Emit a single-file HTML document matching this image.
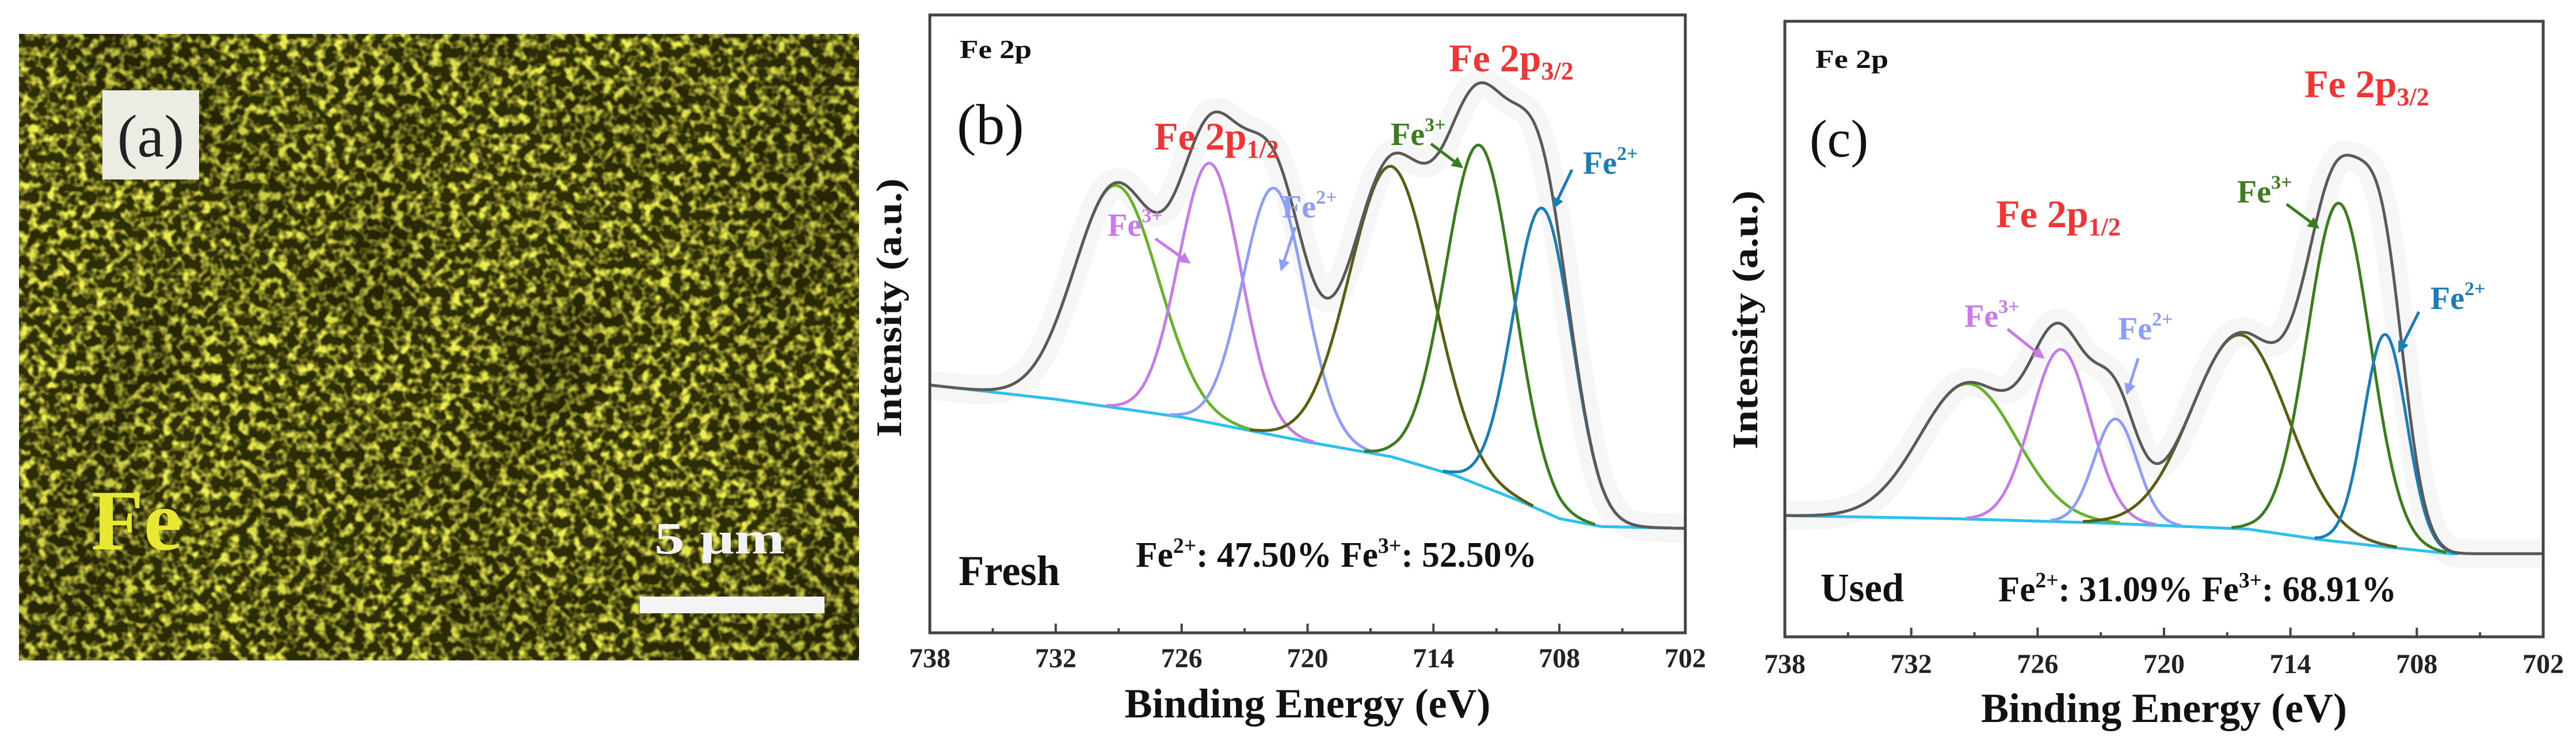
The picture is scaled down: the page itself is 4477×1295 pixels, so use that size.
<!DOCTYPE html>
<html><head><meta charset="utf-8"><title>Fe 2p XPS</title>
<style>
html,body{margin:0;padding:0;background:#fff;}
svg{display:block;}
text{font-family:"Liberation Serif",serif;}
</style></head>
<body>
<svg id="fig" width="4477" height="1295" viewBox="0 0 4477 1295" xmlns="http://www.w3.org/2000/svg">
<defs>
<filter id="eds" x="0" y="0" width="100%" height="100%">
<feTurbulence type="fractalNoise" baseFrequency="0.06" numOctaves="2" seed="7" result="n"/>
<feColorMatrix in="n" type="matrix" values="0 0 0 0 0.85  0 0 0 0 0.85  0 0 0 0 0.08  3.2 0 0 0 -1.35"/>
</filter>
<filter id="eds2" x="0" y="0" width="100%" height="100%">
<feTurbulence type="fractalNoise" baseFrequency="0.004" numOctaves="2" seed="3" result="n"/>
<feColorMatrix in="n" type="matrix" values="0 0 0 0 0  0 0 0 0 0  0 0 0 0 0  -1.6 0 0 0 0.95"/>
</filter>
<clipPath id="clipB"><rect x="1616" y="26" width="1313" height="1074"/></clipPath>
<clipPath id="clipC"><rect x="3102" y="37" width="1318" height="1070"/></clipPath>
<marker id="ah" viewBox="0 0 10 10" refX="8" refY="5" markerWidth="4" markerHeight="4" orient="auto-start-reverse"><path d="M0,0 L10,5 L0,10 z" fill="context-stroke"/></marker>
</defs>

<g>
<rect x="33" y="59" width="1460" height="1089" fill="#2e2e06"/>
<rect x="33" y="59" width="1460" height="1089" filter="url(#eds)"/>
<rect x="33" y="59" width="1460" height="1089" filter="url(#eds2)" opacity="0.4"/>
<rect x="178" y="157" width="168" height="155" fill="#ecece4"/>
<text x="262" y="272" font-size="105" text-anchor="middle" fill="#222">(a)</text>
<text x="158" y="955" font-size="150" font-weight="bold" fill="#e8e832">Fe</text>
<text x="1137" y="962" font-size="78" font-weight="bold" fill="#f2f2f2" textLength="227" lengthAdjust="spacingAndGlyphs">5 μm</text>
<rect x="1112" y="1037" width="321" height="29" fill="#f4f4f4"/>
</g>

<g id="panelB"></g>
<g id="panelC"></g>
</svg>

<script>
const ticksE = [738, 732, 726, 720, 714, 708, 702];
const minorTicksE = [735, 729, 723, 717, 711, 705];
const peakNames = ["sat-2p1-2", "fe3-2p1-2", "fe2-2p1-2", "sat-2p3-2", "fe3-2p3-2", "fe2-2p3-2"];
const freshCenters = [729.1, 724.65, 721.6, 716.0, 711.8, 708.8];
const freshHeights = [36, 42, 40, 47, 55, 49];
const freshFwhm = [4.7, 3.5, 3.5, 4.7, 3.8, 3.3];
const freshBgE = [738, 732, 726, 720, 716, 713, 710, 708, 706, 702];
const freshBgV = [40.1, 37.8, 34.9, 30.9, 28.5, 25.5, 21.5, 18.5, 17.2, 16.9];
const usedCenters = [729.3, 724.9, 722.3, 716.4, 711.7, 709.5];
const usedHeights = [22, 28, 17, 31.5, 55, 34.5];
const usedFwhm = [5.4, 3.3, 2.4, 5.4, 3.5, 2.4];
const usedBgE = [738, 730, 723, 716, 712.6, 710, 706.4, 702];
const usedBgV = [19.7, 19.2, 18.5, 17.5, 15.8, 14.8, 13.5, 13.5];

const peakColors = ["#66b22a", "#c77ae8", "#8f9ef5", "#5c5c14", "#3b7d1e", "#1a7db8"];
const NS = "http://www.w3.org/2000/svg";

function mk(tag, attrs, parent) {
  const el = document.createElementNS(NS, tag);
  for (const k in attrs) el.setAttribute(k, attrs[k]);
  parent.appendChild(el);
  return el;
}
function interp(E, xs, ys) {
  for (let i = 0; i < xs.length - 1; i++) {
    if (E <= xs[i] && E >= xs[i + 1]) {
      const t = (xs[i] - E) / (xs[i] - xs[i + 1]);
      return ys[i] + t * (ys[i + 1] - ys[i]);
    }
  }
  return E > xs[0] ? ys[0] : ys[ys.length - 1];
}
function gauss(E, c, h, f) { const s = f / 2.355; return h * Math.exp(-((E - c) * (E - c)) / (2 * s * s)); }

function drawPanel(g, P) {
  const xS = E => P.left + (738 - E) / 36 * (P.right - P.left);
  const yS = v => P.bottom - v / 100 * (P.bottom - P.top);
  const bg = E => interp(E, P.bgE, P.bgV);
  const step = 0.05;
  const Es = [];
  for (let E = 738; E >= 702 - 1e-9; E -= step) Es.push(E);

  const plot = mk("g", {"clip-path": P.clip}, g);
  
  

  let envD = "";
  Es.forEach((E, i) => {
    let v = bg(E);
    for (let k = 0; k < P.centers.length; k++) v += gauss(E, P.centers[k], P.heights[k], P.fwhm[k]);
    envD += (i ? "L" : "M") + xS(E).toFixed(1) + "," + yS(v).toFixed(1);
  });
  const band = mk("path", {d: envD, fill: "none", stroke: "#d6d6d6", "stroke-width": 50, opacity: 0.22, "stroke-linejoin": "round"}, plot);
  
  

  let bgD = "";
  Es.forEach(E => { if (E >= P.bgEnd) bgD += (bgD ? "L" : "M") + xS(E).toFixed(1) + "," + yS(bg(E)).toFixed(1); });
  const bgl = mk("path", {d: bgD, fill: "none", stroke: "#2ec0ec", "stroke-width": 5}, plot);
  
  

  for (let k = 0; k < P.centers.length; k++) {
    let d = "";
    Es.forEach(E => {
      const gv = gauss(E, P.centers[k], P.heights[k], P.fwhm[k]);
      if (gv > 0.15) d += (d ? "L" : "M") + xS(E).toFixed(1) + "," + yS(bg(E) + gv).toFixed(1);
    });
    const pk = mk("path", {d: d, fill: "none", stroke: peakColors[k], "stroke-width": 5, "stroke-linejoin": "round"}, plot);
    
    
  }
  const env = mk("path", {d: envD, fill: "none", stroke: "#5a5a5a", "stroke-width": 5, "stroke-linejoin": "round"}, plot);
  
  

  const fr = mk("rect", {x: P.left, y: P.top, width: P.right - P.left, height: P.bottom - P.top, fill: "none", stroke: "#444", "stroke-width": 5}, g);
  
  

  ticksE.forEach(E => {
    const t = mk("line", {x1: xS(E), x2: xS(E), y1: P.bottom, y2: P.bottom - 16, stroke: "#444", "stroke-width": 4}, g);
    
    
    const lb = mk("text", {x: xS(E), y: P.tickBase, "font-size": 48, "font-weight": "bold", "text-anchor": "middle", fill: "#222"}, g);
    
    
    lb.textContent = E;
  });
  minorTicksE.forEach(E => {
    const t = mk("line", {x1: xS(E), x2: xS(E), y1: P.bottom, y2: P.bottom - 8, stroke: "#444", "stroke-width": 4}, g);
    
    
  });
  const xt = mk("text", {x: (P.left + P.right) / 2, y: P.xTitleBase, "font-size": 72, "font-weight": "bold", "text-anchor": "middle", fill: "#111"}, g);
  
  
  xt.textContent = "Binding Energy (eV)";
  const yt = mk("text", {x: 0, y: 0, "font-size": 62, "font-weight": "bold", "text-anchor": "middle", fill: "#111",
    textLength: 450, lengthAdjust: "spacingAndGlyphs",
    transform: "translate(" + (P.yTitleX) + "," + P.yTitleY + ") rotate(-90)"}, g);
  
  
  yt.textContent = "Intensity (a.u.)";
}

function ionLabel(g, x, y, charge, color, name) {
  const t = mk("text", {x: x, y: y, "font-size": 56, "font-weight": "bold", fill: color}, g);
  
  
  t.innerHTML = 'Fe<tspan font-size="34" dy="-24">' + charge + '</tspan>';
}
function arrow(g, x1, y1, x2, y2, color, name) {
  const a = mk("line", {x1: x1, y1: y1, x2: x2, y2: y2, stroke: color, "stroke-width": 5, "marker-end": "url(#ah)"}, g);
  
  
}
function redLabel(g, x, y, sub, name) {
  const t = mk("text", {x: x, y: y, "font-size": 68, "font-weight": "bold", fill: "#f03535"}, g);
  
  
  t.innerHTML = 'Fe 2p<tspan font-size="44" dy="14">' + sub + '</tspan>';
}
function plainText(g, x, y, size, txt, name, extra) {
  const t = mk("text", Object.assign({x: x, y: y, "font-size": size, "font-weight": "bold", fill: "#111"}, extra || {}), g);
  
  
  t.innerHTML = txt;
  return t;
}

const gB = document.getElementById("panelB");
drawPanel(gB, {left: 1616, right: 2929, top: 26, bottom: 1100, clip: "url(#clipB)",
  centers: freshCenters, heights: freshHeights, fwhm: freshFwhm, bgE: freshBgE, bgV: freshBgV, bgEnd: 702,
  tickBase: 1160, xTitleBase: 1247, yTitleX: 1566, yTitleY: 535});
plainText(gB, 1668, 101, 46, "Fe 2p", "spectrum-title", {textLength: 125, lengthAdjust: "spacingAndGlyphs"});
plainText(gB, 1663, 250, 100, "(b)", "panel-b-label", {"font-weight": "normal"});
redLabel(gB, 2006, 260, "1/2", "fe-2p12-label");
redLabel(gB, 2518, 124, "3/2", "fe-2p32-label");
ionLabel(gB, 1925, 410, "3+", "#c77ae8", "fe3-2p12-ion-label");
arrow(gB, 2008, 415, 2066, 456, "#c77ae8", "fe3-2p12-arrow");
ionLabel(gB, 2228, 378, "2+", "#8f9ef5", "fe2-2p12-ion-label");
arrow(gB, 2251, 395, 2227, 468, "#8f9ef5", "fe2-2p12-arrow");
ionLabel(gB, 2417, 252, "3+", "#3b7d1e", "fe3-2p32-ion-label");
arrow(gB, 2487, 250, 2540, 290, "#3b7d1e", "fe3-2p32-arrow");
ionLabel(gB, 2751, 302, "2+", "#1a7db8", "fe2-2p32-ion-label");
arrow(gB, 2732, 295, 2701, 360, "#1a7db8", "fe2-2p32-arrow");
plainText(gB, 1666, 1017, 74, "Fresh", "sample-label-fresh", {textLength: 176, lengthAdjust: "spacingAndGlyphs"});
plainText(gB, 1974, 985, 62, 'Fe<tspan font-size="38" dy="-24">2+</tspan><tspan dy="24">: 47.50%  Fe</tspan><tspan font-size="38" dy="-24">3+</tspan><tspan dy="24">: 52.50%</tspan>', "ratio-text-fresh", {textLength: 697, lengthAdjust: "spacingAndGlyphs"});

const gC = document.getElementById("panelC");
drawPanel(gC, {left: 3102, right: 4420, top: 37, bottom: 1107, clip: "url(#clipC)",
  centers: usedCenters, heights: usedHeights, fwhm: usedFwhm, bgE: usedBgE, bgV: usedBgV, bgEnd: 706,
  tickBase: 1170, xTitleBase: 1255, yTitleX: 3054, yTitleY: 556});
plainText(gC, 3155, 118, 46, "Fe 2p", "spectrum-title", {textLength: 127, lengthAdjust: "spacingAndGlyphs"});
plainText(gC, 3145, 272, 92, "(c)", "panel-c-label", {"font-weight": "normal"});
redLabel(gC, 3469, 395, "1/2", "fe-2p12-label");
redLabel(gC, 4005, 169, "3/2", "fe-2p32-label");
ionLabel(gC, 3414, 568, "3+", "#c77ae8", "fe3-2p12-ion-label");
arrow(gC, 3489, 572, 3550, 621, "#c77ae8", "fe3-2p12-arrow");
ionLabel(gC, 3681, 590, "2+", "#8f9ef5", "fe2-2p12-ion-label");
arrow(gC, 3716, 623, 3697, 683, "#8f9ef5", "fe2-2p12-arrow");
ionLabel(gC, 3888, 352, "3+", "#3b7d1e", "fe3-2p32-ion-label");
arrow(gC, 3974, 355, 4028, 395, "#3b7d1e", "fe3-2p32-arrow");
ionLabel(gC, 4224, 537, "2+", "#1a7db8", "fe2-2p32-ion-label");
arrow(gC, 4204, 542, 4170, 610, "#1a7db8", "fe2-2p32-arrow");
plainText(gC, 3164, 1045, 70, "Used", "sample-label-used", {textLength: 145, lengthAdjust: "spacingAndGlyphs"});
plainText(gC, 3473, 1045, 62, 'Fe<tspan font-size="38" dy="-24">2+</tspan><tspan dy="24">: 31.09%  Fe</tspan><tspan font-size="38" dy="-24">3+</tspan><tspan dy="24">: 68.91%</tspan>', "ratio-text-used", {textLength: 692, lengthAdjust: "spacingAndGlyphs"});
</script>
</body></html>
